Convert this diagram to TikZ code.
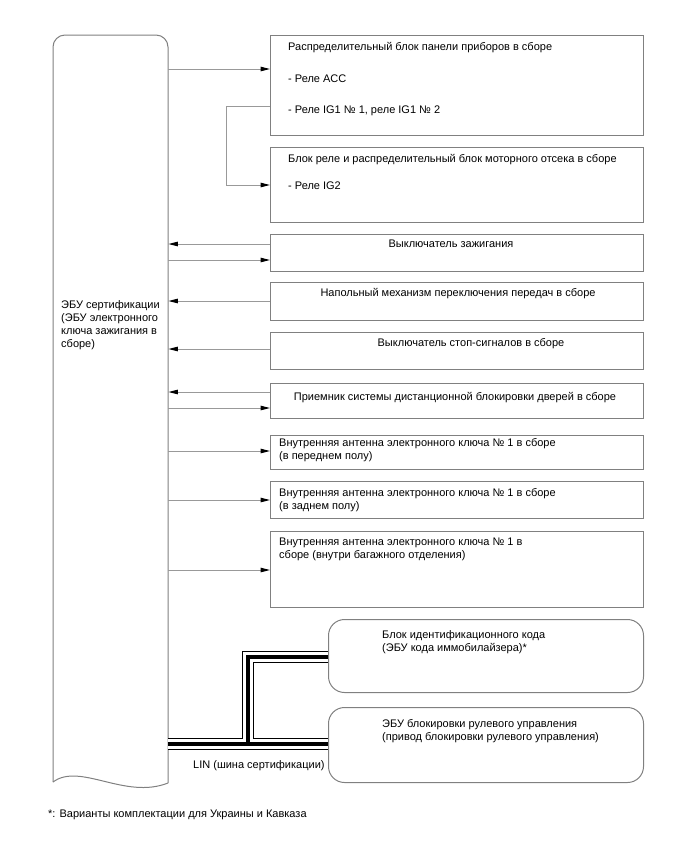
\documentclass[tikz,border=0pt]{standalone}
\usepackage{fontspec}
\setmainfont{Liberation Sans}
\usetikzlibrary{arrows.meta, positioning, calc}

\begin{document}
\begin{tikzpicture}[
    x=1pt, y=-1pt,
    box/.style={rectangle, draw=gray, line width=1pt, anchor=north west, inner sep=0pt, minimum width=373pt},
    rbox/.style={box, rounded corners=16pt, minimum width=315pt},
    txt/.style={anchor=north west, inner sep=0pt, font=\fontsize{11}{13}\selectfont, align=left},
    ctxt/.style={anchor=north, inner sep=0pt, font=\fontsize{11}{13}\selectfont},
    arr/.style={draw=gray!80, line width=1pt, -{Triangle[length=9.5pt, width=4.5pt, color=black]}},
    wire/.style={draw=gray, line width=1pt}
]
\useasboundingbox (0,0) rectangle (688,852);

% Certification ECU
\node[anchor=north west, inner sep=0pt, minimum width=115pt, minimum height=750pt] (ecu) at (53,35) {};
\draw[wire, rounded corners=12pt] (53,782) -- (53,35) -- (168,35) -- (168,783);
\draw[wire] (53,782) .. controls (80,762) and (125,800) .. (168,783);
\node[txt] (ecutxt) at (61,300) {ЭБУ сертификации\\(ЭБУ электронного\\ключа зажигания в\\сборе)};

% Relay blocks
\node[box, minimum height=100pt] (ipb) at (270,35) {};
\node[txt] (ipbtxt) at (288,42) {Распределительный блок панели приборов в сборе\\[19pt]- Реле ACC\\[18pt]- Реле IG1 № 1, реле IG1 № 2};
\node[box, minimum height=75pt] (erb) at (270,147) {};
\node[txt] (erbtxt) at (288,154) {Блок реле и распределительный блок моторного отсека в сборе\\[14pt]- Реле IG2};

% Switches and receiver
\node[box, minimum height=37pt] (ign) at (270,234) {};
\node[ctxt] (igntxt) at (451,240) {Выключатель зажигания};
\node[box, minimum height=38pt] (shift) at (270,282) {};
\node[ctxt] (shifttxt) at (458,288) {Напольный механизм переключения передач в сборе};
\node[box, minimum height=37pt] (stop) at (270,332) {};
\node[ctxt] (stoptxt) at (471,338) {Выключатель стоп-сигналов в сборе};
\node[box, minimum height=35pt] (recv) at (270,383) {};
\node[ctxt] (recvtxt) at (455,392) {Приемник системы дистанционной блокировки дверей в сборе};

% Antennas
\node[box, minimum height=34pt] (antf) at (270,435) {};
\node[txt] (antftxt) at (279,438) {Внутренняя антенна электронного ключа № 1 в сборе\\(в переднем полу)};
\node[box, minimum height=37pt] (antr) at (270,481) {};
\node[txt] (antrtxt) at (279,488) {Внутренняя антенна электронного ключа № 1 в сборе\\(в заднем полу)};
\node[box, minimum height=76pt] (antl) at (270,531) {};
\node[txt] (antltxt) at (279,538) {Внутренняя антенна электронного ключа № 1 в\\сборе (внутри багажного отделения)};

% LIN slaves
\node[rbox, minimum height=73pt] (idb) at (328,619) {};
\node[txt] (idbtxt) at (382,630) {Блок идентификационного кода\\(ЭБУ кода иммобилайзера)*};
\node[rbox, minimum height=75pt] (slk) at (328,707) {};
\node[txt] (slktxt) at (382,719) {ЭБУ блокировки рулевого управления\\(привод блокировки рулевого управления)};

% Arrows
\draw[arr] (ecu.east |- 0,69) -- (ipb.west |- 0,69);
\draw[arr] (ipb.west |- 0,106) -- ++(-44,0) |- (erb.west |- 0,185);
\draw[arr] (ign.west |- 0,244) -- (ecu.east |- 0,244);
\draw[arr] (ecu.east |- 0,260) -- (ign.west |- 0,260);
\draw[arr] (shift.west |- 0,301) -- (ecu.east |- 0,301);
\draw[arr] (stop.west |- 0,349) -- (ecu.east |- 0,349);
\draw[arr] (recv.west |- 0,392) -- (ecu.east |- 0,392);
\draw[arr] (ecu.east |- 0,408) -- (recv.west |- 0,408);
\draw[arr] (ecu.east |- 0,451) -- (antf.west |- 0,451);
\draw[arr] (ecu.east |- 0,500) -- (antr.west |- 0,500);
\draw[arr] (ecu.east |- 0,570) -- (antl.west |- 0,570);

% LIN bus
\foreach \w/\c in {12.5pt/black, 10.5pt/white, 3.5pt/black}
  \draw[line width=\w, \c] (ecu.east |- 0,744) -- (slk.west |- 0,744)
    (248,744) |- (idb.west |- 0,657);
\node[txt] (lin) at (193,760) {LIN (шина сертификации)};

\node[txt] (note) at (48,810) {*: Варианты комплектации для Украины и Кавказа};
\end{tikzpicture}
\end{document}
